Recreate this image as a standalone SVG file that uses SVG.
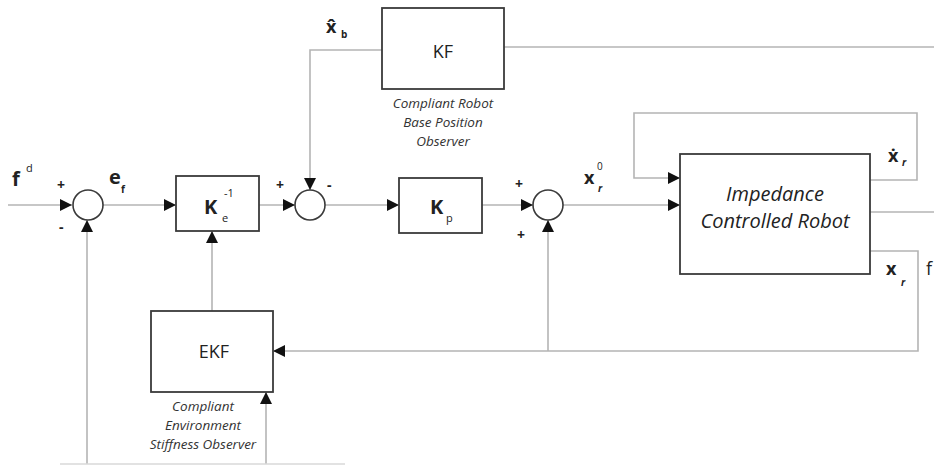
<svg xmlns="http://www.w3.org/2000/svg" width="934" height="466" viewBox="0 0 934 466">
<defs>
<style>
.c{fill:none;stroke:#b4b4b4;stroke-width:1.6}
.b{fill:#fff;stroke:#3a3a3a;stroke-width:1.8}
.j{fill:#fff;stroke:#3a3a3a;stroke-width:1.6}
.t{font-family:"Open Sans","Liberation Sans",sans-serif;fill:#222}
.bold{font-weight:bold}
.it{font-style:italic}
.cap{font-family:"Open Sans","Liberation Sans",sans-serif;font-style:italic;font-size:13.5px;fill:#333;text-anchor:middle}
</style>
<marker id="ah" viewBox="0 0 10 10" refX="10" refY="5" markerWidth="17" markerHeight="12" markerUnits="userSpaceOnUse" orient="auto">
<path d="M0,0 L10,5 L0,10 z" fill="#111"/>
</marker>
</defs>
<rect width="934" height="466" fill="#fff"/>
<g id="connectors">
<path class="c" d="M8,205 H72" marker-end="url(#ah)"/>
<path class="c" d="M103,205 H176" marker-end="url(#ah)"/>
<path class="c" d="M259,205 H295" marker-end="url(#ah)"/>
<path class="c" d="M325,205 H399" marker-end="url(#ah)"/>
<path class="c" d="M482,205 H533" marker-end="url(#ah)"/>
<path class="c" d="M563,205 H680" marker-end="url(#ah)"/>
<path class="c" d="M382,50 H310 V190" marker-end="url(#ah)"/>
<path class="c" d="M504,47 H934"/>
<path class="c" d="M870,180 H917 V113 H634 V178 H680" marker-end="url(#ah)"/>
<path class="c" d="M870,212 H934"/>
<path class="c" d="M870,251 H918 V351 H273" marker-end="url(#ah)"/>
<path class="c" d="M548,351 V220" marker-end="url(#ah)"/>
<path class="c" d="M212,311 V231" marker-end="url(#ah)"/>
<path class="c" d="M87,464 V220" marker-end="url(#ah)"/>
<path class="c" d="M266,464 V392" marker-end="url(#ah)"/>
<path class="c" d="M60,464 H345" style="stroke:#d8d8d8"/>
</g>
<g id="sum1"><circle class="j" cx="88" cy="205" r="15"/>
<text class="t bold" x="57" y="190" font-size="14">+</text>
<text class="t bold" x="59" y="232" font-size="14">-</text></g>
<g id="sum2"><circle class="j" cx="310" cy="205" r="15"/>
<text class="t bold" x="276" y="190" font-size="14">+</text>
<text class="t bold" x="327" y="190" font-size="14">-</text></g>
<g id="sum3"><circle class="j" cx="548" cy="205" r="15"/>
<text class="t bold" x="515" y="189" font-size="14">+</text>
<text class="t bold" x="517" y="240" font-size="14">+</text></g>
<g id="label-fd"><text class="t bold" x="12" y="186" font-size="20">f</text>
<text class="t" x="26" y="172" font-size="11">d</text></g>
<g id="label-ef"><text class="t bold" x="109" y="184" font-size="20">e</text>
<text class="t bold" x="121" y="193" font-size="10">f</text></g>
<g id="Ke"><rect class="b" x="176" y="176" width="83" height="55"/>
<text class="t bold" x="204" y="214" font-size="20">K</text>
<text class="t" x="224" y="197" font-size="11">-1</text>
<text class="t" x="222" y="222" font-size="11">e</text></g>
<g id="Kp"><rect class="b" x="399" y="178" width="83" height="55"/>
<text class="t bold" x="430" y="214" font-size="20">K</text>
<text class="t" x="446" y="222" font-size="11">p</text></g>
<g id="KF"><rect class="b" x="382" y="8" width="122" height="81"/>
<text class="t" x="443" y="58" font-size="18" text-anchor="middle">KF</text>
<text class="cap" x="443" y="108">Compliant Robot</text>
<text class="cap" x="443" y="127">Base Position</text>
<text class="cap" x="443" y="146">Observer</text></g>
<g id="label-xb"><text class="t bold" x="326" y="33" font-size="18">x&#770;</text>
<text class="t bold" x="341" y="38" font-size="10">b</text></g>
<g id="label-xr0"><text class="t bold" x="584" y="184" font-size="18">x</text>
<text class="t" x="597" y="170" font-size="10">0</text>
<text class="t bold it" x="598" y="192" font-size="10">r</text></g>
<g id="robot"><rect class="b" x="680" y="154" width="190" height="120"/>
<text class="t it" x="775" y="201" font-size="20" text-anchor="middle">Impedance</text>
<text class="t it" x="775" y="228" font-size="20" text-anchor="middle">Controlled Robot</text></g>
<g id="label-xdot"><text class="t bold" x="888" y="162" font-size="18">x&#775;</text>
<text class="t bold it" x="902" y="166" font-size="10">r</text></g>
<g id="label-xr"><text class="t bold" x="886" y="275" font-size="18">x</text>
<text class="t bold it" x="901" y="286" font-size="10">r</text>
<text class="t" x="926" y="275" font-size="18">f</text></g>
<g id="EKF"><rect class="b" x="151" y="311" width="122" height="81"/>
<text class="t" x="214" y="358" font-size="18" text-anchor="middle">EKF</text>
<text class="cap" x="203" y="411">Compliant</text>
<text class="cap" x="203" y="430">Environment</text>
<text class="cap" x="203" y="449">Stiffness Observer</text></g>
</svg>
